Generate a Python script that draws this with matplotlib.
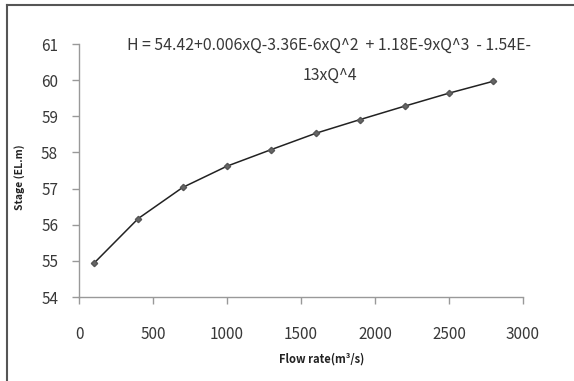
import matplotlib
matplotlib.use('Agg')
import matplotlib.pyplot as plt
from matplotlib.lines import Line2D

# Data
flow = [100, 400, 700, 1000, 1300, 1600, 1900, 2200, 2500, 2800]
stage = [54.93, 56.17, 57.03, 57.62, 58.08, 58.53, 58.91, 59.28, 59.64, 59.97]

x_ticks = [0, 500, 1000, 1500, 2000, 2500, 3000]
y_ticks = [54, 55, 56, 57, 58, 59, 60, 61]

eq_line1 = "H = 54.42+0.006xQ-3.36E-6xQ^2  + 1.18E-9xQ^3  - 1.54E-"
eq_line2 = "13xQ^4"

plt.rcParams['font.family'] = ['Noto Sans CJK KR', 'DejaVu Sans']

W, H = 574, 381
fig = plt.figure(figsize=(W / 100, H / 100), dpi=100)
ax = fig.add_axes([79 / W, 1 - 297 / H, 444 / W, 253 / H])

ax.plot(flow, stage, color='#222222', lw=1.1, marker='D', markersize=3.2,
        markerfacecolor='#666666', markeredgecolor='#555555')

ax.set_xlim(0, 3000)
ax.set_ylim(54, 61)
ax.set_xticks(x_ticks)
ax.set_yticks(y_ticks)

for side in ['top', 'right']:
    ax.spines[side].set_visible(False)
for side in ['left', 'bottom']:
    ax.spines[side].set_color('#999999')
    ax.spines[side].set_linewidth(1.0)

ax.tick_params(axis='both', direction='out', length=5, width=1.0,
               color='#999999', labelsize=11, labelcolor='#383838')
ax.tick_params(axis='x', pad=16)
ax.tick_params(axis='y', pad=10)

# Axis titles
fig.text(322 / W, 1 - 359 / H, "Flow rate(m\u00b3/s)", ha='center', va='center',
         fontsize=8, fontweight='bold', color='#222222')
fig.text(20 / W, 1 - 177 / H, "Stage (EL.m)", ha='center', va='center',
         rotation=90, fontsize=7.5, fontweight='bold', color='#222222')

# Equation of the fitted curve
fig.text(329 / W, 1 - 45 / H, eq_line1, ha='center', va='center',
         fontsize=11.4, color='#383838')
fig.text(330 / W, 1 - 75 / H, eq_line2, ha='center', va='center',
         fontsize=11.4, color='#383838')

# Border on top and left of the picture
fig.add_artist(Line2D([6.5 / W, 6.5 / W], [0, 1 - 5 / H], transform=fig.transFigure,
                      color='#555555', lw=1.5))
fig.add_artist(Line2D([6.5 / W, 1], [1 - 5 / H, 1 - 5 / H], transform=fig.transFigure,
                      color='#555555', lw=1.5))

fig.savefig('out.png', dpi=100)
